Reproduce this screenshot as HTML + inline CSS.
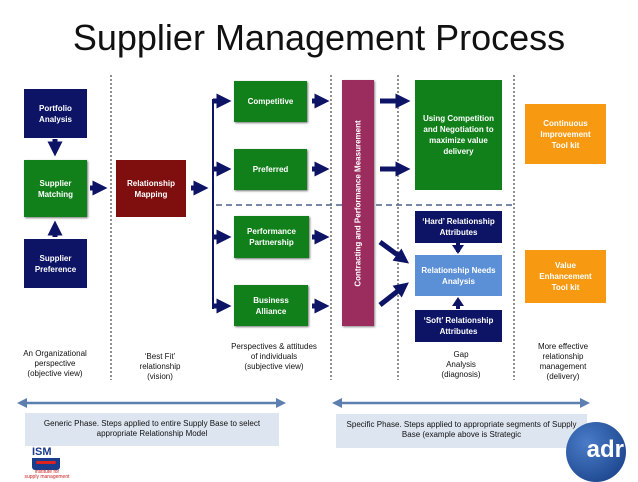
<!DOCTYPE html>
<html><head><meta charset="utf-8"><style>
body{margin:0;width:638px;height:479px;background:#fff;overflow:hidden;position:relative;font-family:"Liberation Sans",sans-serif}
.b{position:absolute;color:#fff;font-size:8px;font-weight:bold;display:flex;align-items:center;justify-content:center;text-align:center;line-height:11px;box-sizing:border-box}
.t{position:absolute;font-size:8px;text-align:center;line-height:10px;color:#111}
.n{background:#0d1466}.g{background:#11801a;box-shadow:1px 1px 2px #777}.o{background:#f79a12}
</style></head><body>
<div style="position:absolute;left:0;width:638px;top:17px;text-align:center;font-size:36px;color:#111">Supplier Management Process</div>
<svg width="638" height="479" style="position:absolute;left:0;top:0">
<defs><marker id="a" markerWidth="3" markerHeight="3" refX="1.5" refY="1.5" orient="auto"><path d="M0,0L3,1.5L0,3z" fill="#0d1466"/></marker>
<marker id="c" markerWidth="4" markerHeight="4" refX="2" refY="2" orient="auto-start-reverse"><path d="M0,0L4,2L0,4z" fill="#5b7fae"/></marker></defs>
<g stroke="#222" stroke-width="1" stroke-dasharray="2,2">
<line x1="111" y1="75" x2="111" y2="380"/><line x1="331" y1="75" x2="331" y2="380"/><line x1="398" y1="75" x2="398" y2="380"/><line x1="514" y1="75" x2="514" y2="380"/></g>
<line x1="216" y1="205" x2="513" y2="205" stroke="#4a6288" stroke-width="1.5" stroke-dasharray="6,4"/>
<g stroke="#0d1466" stroke-width="5" marker-end="url(#a)">
<line x1="55" y1="139" x2="55" y2="149"/><line x1="55" y1="237" x2="55" y2="228"/>
<line x1="90" y1="188" x2="100" y2="188"/><line x1="191" y1="188" x2="201" y2="188"/>
<line x1="213" y1="101" x2="224" y2="101"/><line x1="213" y1="169" x2="224" y2="169"/><line x1="213" y1="237" x2="224" y2="237"/><line x1="213" y1="306" x2="224" y2="306"/>
<line x1="312" y1="101" x2="322" y2="101"/><line x1="312" y1="169" x2="322" y2="169"/><line x1="312" y1="237" x2="322" y2="237"/><line x1="312" y1="306" x2="322" y2="306"/>
<line x1="380" y1="101" x2="403" y2="101"/><line x1="380" y1="169" x2="403" y2="169"/>
<line x1="380" y1="242" x2="403" y2="259"/><line x1="380" y1="305" x2="403" y2="287"/>
</g>
<line x1="213" y1="99" x2="213" y2="309" stroke="#0d1466" stroke-width="2"/>
<line x1="458" y1="243" x2="458" y2="252" stroke="#0d1466" stroke-width="4"/><path d="M452,245L464,245L458,254z" fill="#0d1466"/>
<line x1="458" y1="309" x2="458" y2="300" stroke="#0d1466" stroke-width="4"/><path d="M452,306L464,306L458,297z" fill="#0d1466"/>
<g stroke="#5b7fae" stroke-width="2.5"><line x1="22" y1="403" x2="281" y2="403" marker-start="url(#c)" marker-end="url(#c)"/><line x1="337" y1="403" x2="585" y2="403" marker-start="url(#c)" marker-end="url(#c)"/></g>
</svg>
<div class="b n" style="left:24px;top:89px;width:63px;height:49px">Portfolio<br>Analysis</div>
<div class="b g" style="left:24px;top:160px;width:63px;height:57px">Supplier<br>Matching</div>
<div class="b n" style="left:24px;top:239px;width:63px;height:49px">Supplier<br>Preference</div>
<div class="b" style="left:116px;top:160px;width:70px;height:57px;background:#7f0f0f">Relationship<br>Mapping</div>
<div class="b g" style="left:234px;top:81px;width:73px;height:41px">Competitive</div>
<div class="b g" style="left:234px;top:149px;width:73px;height:41px">Preferred</div>
<div class="b g" style="left:234px;top:216px;width:75px;height:42px">Performance<br>Partnership</div>
<div class="b g" style="left:234px;top:285px;width:74px;height:41px">Business<br>Alliance</div>
<div class="b" style="left:342px;top:80px;width:32px;height:246px;background:#9b2c5e;box-shadow:1px 1px 2px #888"><div style="transform:rotate(-90deg);white-space:nowrap">Contracting and Performance Measurement</div></div>
<div class="b" style="left:415px;top:80px;width:87px;height:110px;background:#11801a">Using Competition<br>and Negotiation to<br>maximize value<br>delivery</div>
<div class="b n" style="left:415px;top:211px;width:87px;height:32px">‘Hard’ Relationship<br>Attributes</div>
<div class="b" style="left:415px;top:255px;width:87px;height:41px;background:#5b8fd6">Relationship Needs<br>Analysis</div>
<div class="b n" style="left:415px;top:310px;width:87px;height:32px">‘Soft’ Relationship<br>Attributes</div>
<div class="b o" style="left:525px;top:104px;width:81px;height:60px">Continuous<br>Improvement<br>Tool kit</div>
<div class="b o" style="left:525px;top:250px;width:81px;height:53px">Value<br>Enhancement<br>Tool kit</div>
<div class="t" style="left:5px;width:100px;top:349px">An Organizational<br>perspective<br>(objective view)</div>
<div class="t" style="left:115px;width:90px;top:352px">‘Best Fit’<br>relationship<br>(vision)</div>
<div class="t" style="left:218px;width:112px;top:342px">Perspectives &amp; attitudes<br>of individuals<br>(subjective view)</div>
<div class="t" style="left:420px;width:82px;top:350px">Gap<br>Analysis<br>(diagnosis)</div>
<div class="t" style="left:518px;width:90px;top:342px">More effective<br>relationship<br>management<br>(delivery)</div>
<div class="t" style="left:25px;width:254px;top:413px;height:33px;background:#dde5f0;box-sizing:border-box;padding-top:6px">Generic Phase. Steps applied to entire Supply Base to select<br>appropriate Relationship Model</div>
<div class="t" style="left:336px;width:251px;top:414px;height:34px;background:#dde5f0;box-sizing:border-box;padding-top:6px">Specific Phase. Steps applied to appropriate segments of Supply<br>Base (example above is Strategic</div>
<div style="position:absolute;left:32px;top:446px;font-weight:bold;font-size:11px;color:#1a3c8c">ISM</div>
<div style="position:absolute;left:32px;top:458px;width:28px;height:12px;background:#1a3c8c;border-radius:0 0 3px 3px"><div style="margin:3px 4px;height:3px;background:#d22;border-radius:3px"></div></div>
<div style="position:absolute;left:12px;top:470px;font-size:5px;color:#c22;line-height:5px;text-align:center;width:70px">institute for<br>supply management</div>
<div style="position:absolute;left:566px;top:422px;width:60px;height:60px;border-radius:50%;background:radial-gradient(circle at 35% 35%,#4a7cc8,#123a80);color:#fff;font-weight:bold;font-size:24px;line-height:56px;text-align:right;box-sizing:border-box;padding-right:2px">adr</div>
</body></html>
